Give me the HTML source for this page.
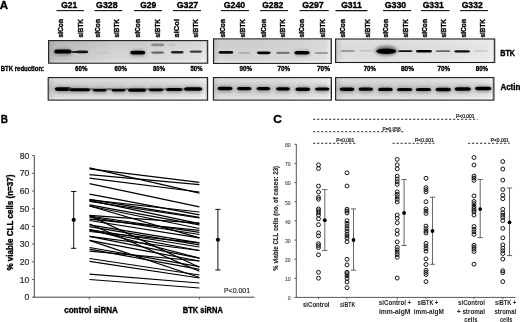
<!DOCTYPE html>
<html><head><meta charset="utf-8"><style>
html,body{margin:0;padding:0;background:#fff;}
svg{display:block;font-family:"Liberation Sans", sans-serif;filter:blur(0.3px);}
</style></head><body>
<svg width="520" height="322" viewBox="0 0 520 322">
<rect width="520" height="322" fill="#fff"/>
<text x="-0.2" y="8.6" font-size="11.4" font-weight="bold" stroke="#000" stroke-width="0.35" fill="#000" text-anchor="start" textLength="8.3" lengthAdjust="spacingAndGlyphs">A</text>
<text x="61.2" y="7.9" font-size="8.9" font-weight="bold" stroke="#000" stroke-width="0.35" fill="#000" text-anchor="start" textLength="16" lengthAdjust="spacingAndGlyphs">G21</text>
<line x1="56.5" y1="10.6" x2="84" y2="10.6" stroke="#111" stroke-width="1.1"/>
<text x="96.05" y="7.9" font-size="8.9" font-weight="bold" stroke="#000" stroke-width="0.35" fill="#000" text-anchor="start" textLength="21.5" lengthAdjust="spacingAndGlyphs">G328</text>
<line x1="94.5" y1="10.6" x2="122.3" y2="10.6" stroke="#111" stroke-width="1.1"/>
<text x="140.2" y="7.9" font-size="8.9" font-weight="bold" stroke="#000" stroke-width="0.35" fill="#000" text-anchor="start" textLength="16" lengthAdjust="spacingAndGlyphs">G29</text>
<line x1="134" y1="10.6" x2="162" y2="10.6" stroke="#111" stroke-width="1.1"/>
<text x="176.7" y="7.9" font-size="8.9" font-weight="bold" stroke="#000" stroke-width="0.35" fill="#000" text-anchor="start" textLength="21.5" lengthAdjust="spacingAndGlyphs">G327</text>
<line x1="173" y1="10.6" x2="201" y2="10.6" stroke="#111" stroke-width="1.1"/>
<text x="223.7" y="7.9" font-size="8.9" font-weight="bold" stroke="#000" stroke-width="0.35" fill="#000" text-anchor="start" textLength="21.5" lengthAdjust="spacingAndGlyphs">G240</text>
<line x1="221" y1="10.6" x2="249" y2="10.6" stroke="#111" stroke-width="1.1"/>
<text x="262.2" y="7.9" font-size="8.9" font-weight="bold" stroke="#000" stroke-width="0.35" fill="#000" text-anchor="start" textLength="21" lengthAdjust="spacingAndGlyphs">G282</text>
<line x1="260" y1="10.6" x2="288" y2="10.6" stroke="#111" stroke-width="1.1"/>
<text x="302.2" y="7.9" font-size="8.9" font-weight="bold" stroke="#000" stroke-width="0.35" fill="#000" text-anchor="start" textLength="21.5" lengthAdjust="spacingAndGlyphs">G297</text>
<line x1="299.5" y1="10.6" x2="328.75" y2="10.6" stroke="#111" stroke-width="1.1"/>
<text x="341.2" y="7.9" font-size="8.9" font-weight="bold" stroke="#000" stroke-width="0.35" fill="#000" text-anchor="start" textLength="20.5" lengthAdjust="spacingAndGlyphs">G311</text>
<line x1="335.5" y1="10.6" x2="367.5" y2="10.6" stroke="#111" stroke-width="1.1"/>
<text x="384.7" y="7.9" font-size="8.9" font-weight="bold" stroke="#000" stroke-width="0.35" fill="#000" text-anchor="start" textLength="21.5" lengthAdjust="spacingAndGlyphs">G330</text>
<line x1="383" y1="10.6" x2="411.25" y2="10.6" stroke="#111" stroke-width="1.1"/>
<text x="422.7" y="7.9" font-size="8.9" font-weight="bold" stroke="#000" stroke-width="0.35" fill="#000" text-anchor="start" textLength="21" lengthAdjust="spacingAndGlyphs">G331</text>
<line x1="421" y1="10.6" x2="449.5" y2="10.6" stroke="#111" stroke-width="1.1"/>
<text x="461.7" y="7.9" font-size="8.9" font-weight="bold" stroke="#000" stroke-width="0.35" fill="#000" text-anchor="start" textLength="21" lengthAdjust="spacingAndGlyphs">G332</text>
<line x1="460" y1="10.6" x2="488" y2="10.6" stroke="#111" stroke-width="1.1"/>
<text transform="translate(63.1,37.5) rotate(-90)" font-size="7" font-weight="bold" stroke="#000" stroke-width="0.35" fill="#000" text-anchor="start" textLength="18.5" lengthAdjust="spacingAndGlyphs">siCon</text>
<text transform="translate(83,37.5) rotate(-90)" font-size="7" font-weight="bold" stroke="#000" stroke-width="0.35" fill="#000" text-anchor="start" textLength="18.5" lengthAdjust="spacingAndGlyphs">siBTK</text>
<text transform="translate(99.5,37.5) rotate(-90)" font-size="7" font-weight="bold" stroke="#000" stroke-width="0.35" fill="#000" text-anchor="start" textLength="18.5" lengthAdjust="spacingAndGlyphs">siCon</text>
<text transform="translate(119,37.5) rotate(-90)" font-size="7" font-weight="bold" stroke="#000" stroke-width="0.35" fill="#000" text-anchor="start" textLength="18.5" lengthAdjust="spacingAndGlyphs">siBTK</text>
<text transform="translate(140,37.5) rotate(-90)" font-size="7" font-weight="bold" stroke="#000" stroke-width="0.35" fill="#000" text-anchor="start" textLength="18.5" lengthAdjust="spacingAndGlyphs">siCon</text>
<text transform="translate(159.5,37.5) rotate(-90)" font-size="7" font-weight="bold" stroke="#000" stroke-width="0.35" fill="#000" text-anchor="start" textLength="18.5" lengthAdjust="spacingAndGlyphs">siBTK</text>
<text transform="translate(179,37.5) rotate(-90)" font-size="7" font-weight="bold" stroke="#000" stroke-width="0.35" fill="#000" text-anchor="start" textLength="18.5" lengthAdjust="spacingAndGlyphs">siCol</text>
<text transform="translate(198,37.5) rotate(-90)" font-size="7" font-weight="bold" stroke="#000" stroke-width="0.35" fill="#000" text-anchor="start" textLength="18.5" lengthAdjust="spacingAndGlyphs">siBTK</text>
<text transform="translate(224.5,37.5) rotate(-90)" font-size="7" font-weight="bold" stroke="#000" stroke-width="0.35" fill="#000" text-anchor="start" textLength="18.5" lengthAdjust="spacingAndGlyphs">siCon</text>
<text transform="translate(245,37.5) rotate(-90)" font-size="7" font-weight="bold" stroke="#000" stroke-width="0.35" fill="#000" text-anchor="start" textLength="18.5" lengthAdjust="spacingAndGlyphs">siBTK</text>
<text transform="translate(266,37.5) rotate(-90)" font-size="7" font-weight="bold" stroke="#000" stroke-width="0.35" fill="#000" text-anchor="start" textLength="18.5" lengthAdjust="spacingAndGlyphs">siCon</text>
<text transform="translate(285,37.5) rotate(-90)" font-size="7" font-weight="bold" stroke="#000" stroke-width="0.35" fill="#000" text-anchor="start" textLength="18.5" lengthAdjust="spacingAndGlyphs">siBTK</text>
<text transform="translate(303.75,37.5) rotate(-90)" font-size="7" font-weight="bold" stroke="#000" stroke-width="0.35" fill="#000" text-anchor="start" textLength="18.5" lengthAdjust="spacingAndGlyphs">siCon</text>
<text transform="translate(324.5,37.5) rotate(-90)" font-size="7" font-weight="bold" stroke="#000" stroke-width="0.35" fill="#000" text-anchor="start" textLength="18.5" lengthAdjust="spacingAndGlyphs">siBTK</text>
<text transform="translate(345,37.5) rotate(-90)" font-size="7" font-weight="bold" stroke="#000" stroke-width="0.35" fill="#000" text-anchor="start" textLength="18.5" lengthAdjust="spacingAndGlyphs">siCon</text>
<text transform="translate(369.5,37.5) rotate(-90)" font-size="7" font-weight="bold" stroke="#000" stroke-width="0.35" fill="#000" text-anchor="start" textLength="18.5" lengthAdjust="spacingAndGlyphs">siBTK</text>
<text transform="translate(388,37.5) rotate(-90)" font-size="7" font-weight="bold" stroke="#000" stroke-width="0.35" fill="#000" text-anchor="start" textLength="18.5" lengthAdjust="spacingAndGlyphs">siCon</text>
<text transform="translate(408,37.5) rotate(-90)" font-size="7" font-weight="bold" stroke="#000" stroke-width="0.35" fill="#000" text-anchor="start" textLength="18.5" lengthAdjust="spacingAndGlyphs">siBTK</text>
<text transform="translate(427,37.5) rotate(-90)" font-size="7" font-weight="bold" stroke="#000" stroke-width="0.35" fill="#000" text-anchor="start" textLength="18.5" lengthAdjust="spacingAndGlyphs">siCon</text>
<text transform="translate(446,37.5) rotate(-90)" font-size="7" font-weight="bold" stroke="#000" stroke-width="0.35" fill="#000" text-anchor="start" textLength="18.5" lengthAdjust="spacingAndGlyphs">siBTK</text>
<text transform="translate(466,37.5) rotate(-90)" font-size="7" font-weight="bold" stroke="#000" stroke-width="0.35" fill="#000" text-anchor="start" textLength="18.5" lengthAdjust="spacingAndGlyphs">siCon</text>
<text transform="translate(485,37.5) rotate(-90)" font-size="7" font-weight="bold" stroke="#000" stroke-width="0.35" fill="#000" text-anchor="start" textLength="18.5" lengthAdjust="spacingAndGlyphs">siBTK</text>
<defs><linearGradient id="g1" x1="0" y1="0" x2="0" y2="1">
<stop offset="0" stop-color="#d4d4d4"/><stop offset="0.07" stop-color="#d0d0d0"/><stop offset="0.45" stop-color="#d8d8d8"/><stop offset="0.85" stop-color="#dedede"/><stop offset="0.94" stop-color="#eeeeee"/><stop offset="1" stop-color="#f6f6f6"/></linearGradient><linearGradient id="g2" x1="0" y1="0" x2="0" y2="1">
<stop offset="0" stop-color="#f0f0f0"/><stop offset="0.07" stop-color="#d4d4d4"/><stop offset="0.45" stop-color="#d8d8d8"/><stop offset="0.85" stop-color="#dddddd"/><stop offset="0.94" stop-color="#eeeeee"/><stop offset="1" stop-color="#f6f6f6"/></linearGradient><linearGradient id="g3" x1="0" y1="0" x2="0" y2="1">
<stop offset="0" stop-color="#f0f0f0"/><stop offset="0.07" stop-color="#e6e6e6"/><stop offset="0.45" stop-color="#e2e2e2"/><stop offset="0.85" stop-color="#e8e8e8"/><stop offset="0.94" stop-color="#eeeeee"/><stop offset="1" stop-color="#f6f6f6"/></linearGradient><linearGradient id="ga" x1="0" y1="0" x2="0" y2="1">
<stop offset="0" stop-color="#f0f0f0"/><stop offset="0.07" stop-color="#e4e4e4"/><stop offset="0.45" stop-color="#cdcdcd"/><stop offset="0.85" stop-color="#e2e2e2"/><stop offset="0.94" stop-color="#eeeeee"/><stop offset="1" stop-color="#f6f6f6"/></linearGradient>
<linearGradient id="bgx" x1="0" y1="0" x2="1" y2="0">
<stop offset="0" stop-color="#fff" stop-opacity="0.5"/><stop offset="0.012" stop-color="#000" stop-opacity="0.1"/><stop offset="0.05" stop-color="#000" stop-opacity="0.03"/><stop offset="0.95" stop-color="#fff" stop-opacity="0.1"/><stop offset="0.985" stop-color="#fff" stop-opacity="0.45"/><stop offset="1" stop-color="#000" stop-opacity="0.1"/></linearGradient>
<linearGradient id="b1x" x1="0" y1="0" x2="1" y2="0">
<stop offset="0" stop-color="#000" stop-opacity="0.1"/><stop offset="0.25" stop-color="#000" stop-opacity="0.04"/><stop offset="0.4" stop-color="#000" stop-opacity="0"/><stop offset="1" stop-color="#000" stop-opacity="0"/></linearGradient>
<filter id="bl" x="-50%" y="-100%" width="200%" height="300%"><feGaussianBlur stdDeviation="0.7"/></filter>
<filter id="bl2" x="-50%" y="-100%" width="200%" height="300%"><feGaussianBlur stdDeviation="1.4"/></filter>
</defs>
<rect x="48.6" y="40.6" width="159.1" height="22.6" fill="url(#g1)"/>
<rect x="48.6" y="40.6" width="159.1" height="22.6" fill="url(#bgx)"/>
<rect x="213.5" y="38.9" width="117.80000000000001" height="24.5" fill="url(#g2)"/>
<rect x="213.5" y="38.9" width="117.80000000000001" height="24.5" fill="url(#bgx)"/>
<rect x="335.6" y="39.0" width="159.09999999999997" height="23.5" fill="url(#g3)"/>
<rect x="335.6" y="39.0" width="159.09999999999997" height="23.5" fill="url(#bgx)"/>
<rect x="48.2" y="77.6" width="159.39999999999998" height="22.5" fill="url(#ga)"/>
<rect x="48.2" y="77.6" width="159.39999999999998" height="22.5" fill="url(#bgx)"/>
<rect x="213.4" y="77.6" width="117.99999999999997" height="22.5" fill="url(#ga)"/>
<rect x="213.4" y="77.6" width="117.99999999999997" height="22.5" fill="url(#bgx)"/>
<rect x="335.6" y="77.6" width="158.29999999999995" height="22.5" fill="url(#ga)"/>
<rect x="335.6" y="77.6" width="158.29999999999995" height="22.5" fill="url(#bgx)"/>
<rect x="48.6" y="40.6" width="159" height="22.6" fill="url(#b1x)"/>
<rect x="53.7" y="48.6" width="18.299999999999997" height="6.8" rx="5.189999999999999" ry="3.2" fill="#8a8a8a" filter="url(#bl2)"/>
<rect x="54.2" y="49.6" width="17.299999999999997" height="4.0" rx="2.8" ry="2.0" fill="#000" filter="url(#bl)"/>
<rect x="71" y="51.0" width="11" height="2.0" rx="2.8" ry="1.0" fill="#222" filter="url(#bl)"/>
<rect x="76" y="50.449999999999996" width="12.299999999999997" height="2.9" rx="2.8" ry="1.45" fill="#151515" filter="url(#bl)"/>
<rect x="93" y="51.3" width="16" height="3" rx="2.8" ry="1.5" fill="#c8c8c8" filter="url(#bl)"/>
<rect x="129.8" y="49.7" width="15.899999999999977" height="6.6" rx="4.469999999999993" ry="3.0999999999999996" fill="#999" filter="url(#bl2)"/>
<rect x="130.3" y="50.7" width="14.899999999999977" height="3.8" rx="2.8" ry="1.9" fill="#000" filter="url(#bl)"/>
<rect x="151" y="51.45" width="13.400000000000006" height="2.3" rx="2.8" ry="1.15" fill="#666" filter="url(#bl)"/>
<rect x="151" y="43.449999999999996" width="13.400000000000006" height="2.7" rx="2.8" ry="1.35" fill="#8a8a8a" filter="url(#bl)"/>
<rect x="141" y="44.2" width="5" height="1.6" rx="1.5" ry="0.8" fill="#c4c4c4" filter="url(#bl)"/>
<rect x="169" y="44.1" width="7" height="1.8" rx="2.1" ry="0.9" fill="#c4c4c4" filter="url(#bl)"/>
<rect x="170.8" y="51.0" width="12.949999999999989" height="2.4" rx="2.8" ry="1.2" fill="#222" filter="url(#bl)"/>
<rect x="189.5" y="50.6" width="12.5" height="2.2" rx="2.8" ry="1.1" fill="#3a3a3a" filter="url(#bl)"/>
<rect x="218.5" y="51.1" width="14.800000000000011" height="2.6" rx="2.8" ry="1.3" fill="#0a0a0a" filter="url(#bl)"/>
<rect x="238.4" y="51.9" width="12.599999999999994" height="2" rx="2.8" ry="1.0" fill="#b0b0b0" filter="url(#bl)"/>
<rect x="256.8" y="51.4" width="13.949999999999989" height="2.8" rx="2.8" ry="1.4" fill="#050505" filter="url(#bl)"/>
<rect x="276" y="51.8" width="14" height="2.2" rx="2.8" ry="1.1" fill="#777" filter="url(#bl)"/>
<rect x="293.8" y="50.0" width="16.399999999999977" height="6.199999999999999" rx="4.619999999999993" ry="2.9" fill="#aaa" filter="url(#bl2)"/>
<rect x="294.3" y="51.0" width="15.399999999999977" height="3.4" rx="2.8" ry="1.7" fill="#000" filter="url(#bl)"/>
<rect x="314.5" y="51.9" width="14.0" height="2" rx="2.8" ry="1.0" fill="#9a9a9a" filter="url(#bl)"/>
<rect x="340.25" y="50.1" width="14.949999999999989" height="1.8" rx="2.8" ry="0.9" fill="#9c9c9c" filter="url(#bl)"/>
<rect x="359.5" y="50.05" width="13.899999999999977" height="1.5" rx="2.8" ry="0.75" fill="#c2c2c2" filter="url(#bl)"/>
<ellipse cx="386.25" cy="50.699999999999996" rx="11.25" ry="5.0" fill="#777" filter="url(#bl2)"/>
<ellipse cx="386.25" cy="51.3" rx="10.05" ry="2.8" fill="#000" filter="url(#bl)"/>
<rect x="397.9" y="50.15" width="14.900000000000034" height="1.9" rx="2.8" ry="0.95" fill="#111" filter="url(#bl)"/>
<rect x="415.8" y="49.95" width="16.30000000000001" height="2.5" rx="2.8" ry="1.25" fill="#000" filter="url(#bl)"/>
<rect x="435.5" y="50.35" width="14.899999999999977" height="1.7" rx="2.8" ry="0.85" fill="#666" filter="url(#bl)"/>
<rect x="454.25" y="50.25" width="15.850000000000023" height="2.3" rx="2.8" ry="1.15" fill="#0a0a0a" filter="url(#bl)"/>
<rect x="473.5" y="50.2" width="14.899999999999977" height="1.6" rx="2.8" ry="0.8" fill="#c8c8c8" filter="url(#bl)"/>
<rect x="56" y="88.2" width="146" height="2" fill="#555" filter="url(#bl)"/>
<rect x="54.2" y="86.3" width="18.299999999999997" height="6.4" rx="5.189999999999999" ry="3.0" fill="#999" filter="url(#bl2)"/>
<rect x="54.7" y="87.3" width="17.299999999999997" height="3.6" rx="2.8" ry="1.8" fill="#050505" filter="url(#bl)"/>
<rect x="69.0" y="87.15" width="21.700000000000003" height="5.9" rx="6.210000000000001" ry="2.75" fill="#999" filter="url(#bl2)"/>
<rect x="69.5" y="88.15" width="20.700000000000003" height="3.1" rx="2.8" ry="1.55" fill="#050505" filter="url(#bl)"/>
<rect x="92.3" y="87.9" width="14.950000000000003" height="5.4" rx="4.1850000000000005" ry="2.5" fill="#999" filter="url(#bl2)"/>
<rect x="92.8" y="88.9" width="13.950000000000003" height="2.6" rx="2.8" ry="1.3" fill="#050505" filter="url(#bl)"/>
<rect x="111.0" y="87.9" width="15.0" height="5.4" rx="4.2" ry="2.5" fill="#999" filter="url(#bl2)"/>
<rect x="111.5" y="88.9" width="14.0" height="2.6" rx="2.8" ry="1.3" fill="#050505" filter="url(#bl)"/>
<rect x="127.5" y="87.60000000000001" width="19.19999999999999" height="6.0" rx="5.459999999999996" ry="2.8" fill="#999" filter="url(#bl2)"/>
<rect x="128" y="88.60000000000001" width="18.19999999999999" height="3.2" rx="2.8" ry="1.6" fill="#050505" filter="url(#bl)"/>
<rect x="148.1" y="87.39999999999999" width="15.900000000000006" height="5.6" rx="4.4700000000000015" ry="2.5999999999999996" fill="#999" filter="url(#bl2)"/>
<rect x="148.6" y="88.39999999999999" width="14.900000000000006" height="2.8" rx="2.8" ry="1.4" fill="#050505" filter="url(#bl)"/>
<rect x="165.3" y="87.1" width="17.799999999999983" height="5.8" rx="5.039999999999995" ry="2.7" fill="#999" filter="url(#bl2)"/>
<rect x="165.8" y="88.1" width="16.799999999999983" height="3.0" rx="2.8" ry="1.5" fill="#050505" filter="url(#bl)"/>
<rect x="183.5" y="86.25" width="19.30000000000001" height="6.3" rx="5.490000000000003" ry="2.95" fill="#999" filter="url(#bl2)"/>
<rect x="184" y="87.25" width="18.30000000000001" height="3.5" rx="2.8" ry="1.75" fill="#050505" filter="url(#bl)"/>
<rect x="217.0" y="85.65" width="16.099999999999994" height="6.3" rx="4.5299999999999985" ry="2.95" fill="#999" filter="url(#bl2)"/>
<rect x="217.5" y="86.65" width="15.099999999999994" height="3.5" rx="2.8" ry="1.75" fill="#050505" filter="url(#bl)"/>
<rect x="236.4" y="86.05" width="15.699999999999989" height="5.9" rx="4.409999999999997" ry="2.75" fill="#999" filter="url(#bl2)"/>
<rect x="236.9" y="87.05" width="14.699999999999989" height="3.1" rx="2.8" ry="1.55" fill="#050505" filter="url(#bl)"/>
<rect x="256.0" y="86.05" width="14.899999999999977" height="5.9" rx="4.169999999999993" ry="2.75" fill="#999" filter="url(#bl2)"/>
<rect x="256.5" y="87.05" width="13.899999999999977" height="3.1" rx="2.8" ry="1.55" fill="#050505" filter="url(#bl)"/>
<rect x="275.5" y="86.14999999999999" width="15" height="6.1" rx="4.2" ry="2.8499999999999996" fill="#999" filter="url(#bl2)"/>
<rect x="276" y="87.14999999999999" width="14" height="3.3" rx="2.8" ry="1.65" fill="#050505" filter="url(#bl)"/>
<rect x="294.8" y="86.4" width="15.899999999999977" height="6.4" rx="4.469999999999993" ry="3.0" fill="#999" filter="url(#bl2)"/>
<rect x="295.3" y="87.4" width="14.899999999999977" height="3.6" rx="2.8" ry="1.8" fill="#050505" filter="url(#bl)"/>
<rect x="314.5" y="86.45" width="15.399999999999977" height="5.9" rx="4.319999999999993" ry="2.75" fill="#999" filter="url(#bl2)"/>
<rect x="315" y="87.45" width="14.399999999999977" height="3.1" rx="2.8" ry="1.55" fill="#050505" filter="url(#bl)"/>
<rect x="339.2" y="86.45" width="15.699999999999989" height="6.3" rx="4.409999999999997" ry="2.95" fill="#999" filter="url(#bl2)"/>
<rect x="339.7" y="87.45" width="14.699999999999989" height="3.5" rx="2.8" ry="1.75" fill="#050505" filter="url(#bl)"/>
<rect x="358.0" y="86.55" width="15.5" height="6.1" rx="4.35" ry="2.8499999999999996" fill="#999" filter="url(#bl2)"/>
<rect x="358.5" y="87.55" width="14.5" height="3.3" rx="2.8" ry="1.65" fill="#050505" filter="url(#bl)"/>
<rect x="377.5" y="86.85000000000001" width="15.800000000000011" height="5.9" rx="4.440000000000003" ry="2.75" fill="#999" filter="url(#bl2)"/>
<rect x="378" y="87.85000000000001" width="14.800000000000011" height="3.1" rx="2.8" ry="1.55" fill="#050505" filter="url(#bl)"/>
<rect x="396.4" y="86.95" width="16.5" height="5.9" rx="4.6499999999999995" ry="2.75" fill="#999" filter="url(#bl2)"/>
<rect x="396.9" y="87.95" width="15.5" height="3.1" rx="2.8" ry="1.55" fill="#050505" filter="url(#bl)"/>
<rect x="415.2" y="86.9" width="16.5" height="6.0" rx="4.6499999999999995" ry="2.8" fill="#999" filter="url(#bl2)"/>
<rect x="415.7" y="87.9" width="15.5" height="3.2" rx="2.8" ry="1.6" fill="#050505" filter="url(#bl)"/>
<rect x="435.0" y="86.85" width="16.5" height="6.1" rx="4.6499999999999995" ry="2.8499999999999996" fill="#999" filter="url(#bl2)"/>
<rect x="435.5" y="87.85" width="15.5" height="3.3" rx="2.8" ry="1.65" fill="#050505" filter="url(#bl)"/>
<rect x="454.1" y="86.35" width="17.399999999999977" height="6.1" rx="4.919999999999993" ry="2.8499999999999996" fill="#999" filter="url(#bl2)"/>
<rect x="454.6" y="87.35" width="16.399999999999977" height="3.3" rx="2.8" ry="1.65" fill="#050505" filter="url(#bl)"/>
<rect x="474.5" y="85.65" width="17.399999999999977" height="6.3" rx="4.919999999999993" ry="2.95" fill="#999" filter="url(#bl2)"/>
<rect x="475" y="86.65" width="16.399999999999977" height="3.5" rx="2.8" ry="1.75" fill="#050505" filter="url(#bl)"/>
<rect x="48.6" y="40.6" width="159.1" height="22.6" fill="none" stroke="#1e1e1e" stroke-width="1.1"/>
<rect x="213.5" y="38.9" width="117.80000000000001" height="24.5" fill="none" stroke="#1e1e1e" stroke-width="1.1"/>
<rect x="335.6" y="39.0" width="159.09999999999997" height="23.5" fill="none" stroke="#1e1e1e" stroke-width="1.1"/>
<rect x="48.2" y="77.6" width="159.39999999999998" height="22.5" fill="none" stroke="#1e1e1e" stroke-width="1.1"/>
<rect x="213.4" y="77.6" width="117.99999999999997" height="22.5" fill="none" stroke="#1e1e1e" stroke-width="1.1"/>
<rect x="335.6" y="77.6" width="158.29999999999995" height="22.5" fill="none" stroke="#1e1e1e" stroke-width="1.1"/>
<text x="0.75" y="70.9" font-size="7.2" font-weight="bold" stroke="#000" stroke-width="0.35" fill="#000" text-anchor="start" textLength="43.3" lengthAdjust="spacingAndGlyphs">BTK reduction:</text>
<text x="75" y="71" font-size="6.8" font-weight="bold" stroke="#000" stroke-width="0.35" fill="#000" text-anchor="start" textLength="12.5" lengthAdjust="spacingAndGlyphs">60%</text>
<text x="114.5" y="71" font-size="6.8" font-weight="bold" stroke="#000" stroke-width="0.35" fill="#000" text-anchor="start" textLength="12.5" lengthAdjust="spacingAndGlyphs">60%</text>
<text x="153" y="71" font-size="6.8" font-weight="bold" stroke="#000" stroke-width="0.35" fill="#000" text-anchor="start" textLength="12" lengthAdjust="spacingAndGlyphs">80%</text>
<text x="190.5" y="71" font-size="6.8" font-weight="bold" stroke="#000" stroke-width="0.35" fill="#000" text-anchor="start" textLength="12.0" lengthAdjust="spacingAndGlyphs">50%</text>
<text x="239.5" y="71" font-size="6.8" font-weight="bold" stroke="#000" stroke-width="0.35" fill="#000" text-anchor="start" textLength="12.5" lengthAdjust="spacingAndGlyphs">90%</text>
<text x="277.5" y="71" font-size="6.8" font-weight="bold" stroke="#000" stroke-width="0.35" fill="#000" text-anchor="start" textLength="12.5" lengthAdjust="spacingAndGlyphs">70%</text>
<text x="317" y="71" font-size="6.8" font-weight="bold" stroke="#000" stroke-width="0.35" fill="#000" text-anchor="start" textLength="13" lengthAdjust="spacingAndGlyphs">70%</text>
<text x="363.75" y="71" font-size="6.8" font-weight="bold" stroke="#000" stroke-width="0.35" fill="#000" text-anchor="start" textLength="12.0" lengthAdjust="spacingAndGlyphs">70%</text>
<text x="401" y="71" font-size="6.8" font-weight="bold" stroke="#000" stroke-width="0.35" fill="#000" text-anchor="start" textLength="13" lengthAdjust="spacingAndGlyphs">80%</text>
<text x="437.5" y="71" font-size="6.8" font-weight="bold" stroke="#000" stroke-width="0.35" fill="#000" text-anchor="start" textLength="12.5" lengthAdjust="spacingAndGlyphs">70%</text>
<text x="475.75" y="71" font-size="6.8" font-weight="bold" stroke="#000" stroke-width="0.35" fill="#000" text-anchor="start" textLength="12.25" lengthAdjust="spacingAndGlyphs">80%</text>
<text x="500.2" y="55.9" font-size="8.6" font-weight="bold" stroke="#000" stroke-width="0.35" fill="#000" text-anchor="start" textLength="14.8" lengthAdjust="spacingAndGlyphs">BTK</text>
<text x="500.4" y="90.3" font-size="8.6" font-weight="bold" stroke="#000" stroke-width="0.35" fill="#000" text-anchor="start" textLength="20" lengthAdjust="spacingAndGlyphs">Actin</text>
<text x="0.8" y="122.9" font-size="11.5" font-weight="bold" stroke="#000" stroke-width="0.35" fill="#000" text-anchor="start" textLength="7.2" lengthAdjust="spacingAndGlyphs">B</text>
<line x1="34.3" y1="155.2" x2="34.3" y2="297.7" stroke="#444" stroke-width="1.0"/>
<line x1="34.3" y1="297.2" x2="254.5" y2="297.2" stroke="#444" stroke-width="1.0"/>
<line x1="31.9" y1="297.2" x2="34.3" y2="297.2" stroke="#555" stroke-width="0.9"/>
<text x="29.2" y="300.3" font-size="8.6" fill="#2a2a2a" text-anchor="end" stroke="#2a2a2a" stroke-width="0.2">0</text>
<line x1="31.9" y1="279.5" x2="34.3" y2="279.5" stroke="#555" stroke-width="0.9"/>
<text x="29.2" y="282.6" font-size="8.6" fill="#2a2a2a" text-anchor="end" stroke="#2a2a2a" stroke-width="0.2">10</text>
<line x1="31.9" y1="261.8" x2="34.3" y2="261.8" stroke="#555" stroke-width="0.9"/>
<text x="29.2" y="264.90000000000003" font-size="8.6" fill="#2a2a2a" text-anchor="end" stroke="#2a2a2a" stroke-width="0.2">20</text>
<line x1="31.9" y1="244.1" x2="34.3" y2="244.1" stroke="#555" stroke-width="0.9"/>
<text x="29.2" y="247.2" font-size="8.6" fill="#2a2a2a" text-anchor="end" stroke="#2a2a2a" stroke-width="0.2">30</text>
<line x1="31.9" y1="226.39999999999998" x2="34.3" y2="226.39999999999998" stroke="#555" stroke-width="0.9"/>
<text x="29.2" y="229.49999999999997" font-size="8.6" fill="#2a2a2a" text-anchor="end" stroke="#2a2a2a" stroke-width="0.2">40</text>
<line x1="31.9" y1="208.7" x2="34.3" y2="208.7" stroke="#555" stroke-width="0.9"/>
<text x="29.2" y="211.79999999999998" font-size="8.6" fill="#2a2a2a" text-anchor="end" stroke="#2a2a2a" stroke-width="0.2">50</text>
<line x1="31.9" y1="191.0" x2="34.3" y2="191.0" stroke="#555" stroke-width="0.9"/>
<text x="29.2" y="194.1" font-size="8.6" fill="#2a2a2a" text-anchor="end" stroke="#2a2a2a" stroke-width="0.2">60</text>
<line x1="31.9" y1="173.29999999999998" x2="34.3" y2="173.29999999999998" stroke="#555" stroke-width="0.9"/>
<text x="29.2" y="176.39999999999998" font-size="8.6" fill="#2a2a2a" text-anchor="end" stroke="#2a2a2a" stroke-width="0.2">70</text>
<line x1="31.9" y1="155.6" x2="34.3" y2="155.6" stroke="#555" stroke-width="0.9"/>
<text x="29.2" y="158.7" font-size="8.6" fill="#2a2a2a" text-anchor="end" stroke="#2a2a2a" stroke-width="0.2">80</text>
<line x1="89.3" y1="297.2" x2="89.3" y2="299.4" stroke="#555" stroke-width="0.9"/>
<line x1="199.6" y1="297.2" x2="199.6" y2="299.4" stroke="#555" stroke-width="0.9"/>
<text x="64.2" y="313" font-size="8.6" font-weight="bold" stroke="#000" stroke-width="0.35" fill="#000" text-anchor="start" textLength="53.7" lengthAdjust="spacingAndGlyphs">control siRNA</text>
<text x="182.7" y="313" font-size="8.6" font-weight="bold" stroke="#000" stroke-width="0.35" fill="#000" text-anchor="start" textLength="40.2" lengthAdjust="spacingAndGlyphs">BTK siRNA</text>
<text transform="translate(13.2,270.6) rotate(-90)" font-size="8.3" font-weight="bold" stroke="#000" stroke-width="0.35" fill="#000" text-anchor="start" textLength="96" lengthAdjust="spacingAndGlyphs">% viable CLL cells (n=37)</text>
<text x="224" y="292.9" font-size="7.2" fill="#222" text-anchor="start" textLength="26" lengthAdjust="spacingAndGlyphs" stroke="#222" stroke-width="0.15">P&lt;0.001</text>
<line x1="89.5" y1="167.8" x2="199.4" y2="193.2" stroke="#000" stroke-width="1.2"/>
<line x1="89.5" y1="168.9" x2="199.4" y2="182.3" stroke="#000" stroke-width="1.2"/>
<line x1="89.5" y1="174.7" x2="199.4" y2="184.6" stroke="#000" stroke-width="1.2"/>
<line x1="89.5" y1="178.2" x2="199.4" y2="192" stroke="#000" stroke-width="1.2"/>
<line x1="89.5" y1="183.6" x2="199.4" y2="206.8" stroke="#000" stroke-width="1.2"/>
<line x1="89.5" y1="194.2" x2="199.4" y2="214.9" stroke="#000" stroke-width="1.2"/>
<line x1="89.5" y1="199.4" x2="199.4" y2="217.4" stroke="#000" stroke-width="1.2"/>
<line x1="89.5" y1="201.4" x2="199.4" y2="218" stroke="#000" stroke-width="1.2"/>
<line x1="89.5" y1="200.4" x2="199.4" y2="223.6" stroke="#000" stroke-width="1.2"/>
<line x1="89.5" y1="204.8" x2="199.4" y2="224.8" stroke="#000" stroke-width="1.2"/>
<line x1="89.5" y1="206" x2="199.4" y2="228.5" stroke="#000" stroke-width="1.2"/>
<line x1="89.5" y1="215.3" x2="199.4" y2="223.2" stroke="#000" stroke-width="1.2"/>
<line x1="89.5" y1="215.6" x2="199.4" y2="267.3" stroke="#000" stroke-width="1.2"/>
<line x1="89.5" y1="216" x2="199.4" y2="232.3" stroke="#000" stroke-width="1.2"/>
<line x1="89.5" y1="217.2" x2="199.4" y2="234.5" stroke="#000" stroke-width="1.2"/>
<line x1="89.5" y1="219.2" x2="199.4" y2="230.4" stroke="#000" stroke-width="1.2"/>
<line x1="89.5" y1="220.5" x2="199.4" y2="237.9" stroke="#000" stroke-width="1.2"/>
<line x1="89.5" y1="224" x2="199.4" y2="271.3" stroke="#000" stroke-width="1.2"/>
<line x1="89.5" y1="224.8" x2="199.4" y2="242.8" stroke="#000" stroke-width="1.2"/>
<line x1="89.5" y1="226.7" x2="199.4" y2="244.9" stroke="#000" stroke-width="1.2"/>
<line x1="89.5" y1="229.5" x2="199.4" y2="247" stroke="#000" stroke-width="1.2"/>
<line x1="89.5" y1="230.4" x2="199.4" y2="250.5" stroke="#000" stroke-width="1.2"/>
<line x1="89.5" y1="231.5" x2="199.4" y2="242.8" stroke="#000" stroke-width="1.2"/>
<line x1="89.5" y1="236.4" x2="199.4" y2="258.2" stroke="#000" stroke-width="1.2"/>
<line x1="89.5" y1="240.4" x2="199.4" y2="261" stroke="#000" stroke-width="1.2"/>
<line x1="89.5" y1="247.5" x2="199.4" y2="266.6" stroke="#000" stroke-width="1.2"/>
<line x1="89.5" y1="249.2" x2="199.4" y2="269.4" stroke="#000" stroke-width="1.2"/>
<line x1="89.5" y1="251.1" x2="199.4" y2="261" stroke="#000" stroke-width="1.2"/>
<line x1="89.5" y1="258.5" x2="199.4" y2="275" stroke="#000" stroke-width="1.2"/>
<line x1="89.5" y1="261.4" x2="199.4" y2="278" stroke="#000" stroke-width="1.2"/>
<line x1="89.5" y1="274.2" x2="199.4" y2="283" stroke="#000" stroke-width="1.2"/>
<line x1="89.5" y1="279.5" x2="199.4" y2="288" stroke="#000" stroke-width="1.2"/>
<line x1="89.5" y1="199.8" x2="199.4" y2="212" stroke="#000" stroke-width="1.2"/>
<line x1="89.5" y1="206" x2="199.4" y2="237.9" stroke="#000" stroke-width="1.2"/>
<line x1="89.5" y1="229.5" x2="199.4" y2="258.2" stroke="#000" stroke-width="1.2"/>
<line x1="89.5" y1="236.4" x2="199.4" y2="250.5" stroke="#000" stroke-width="1.2"/>
<line x1="89.5" y1="240.4" x2="199.4" y2="277.5" stroke="#000" stroke-width="1.2"/>
<line x1="73.7" y1="191.5" x2="73.7" y2="248.3" stroke="#111" stroke-width="1.0"/>
<line x1="71.10000000000001" y1="191.5" x2="76.3" y2="191.5" stroke="#111" stroke-width="1.0"/>
<line x1="71.10000000000001" y1="248.3" x2="76.3" y2="248.3" stroke="#111" stroke-width="1.0"/>
<circle cx="73.7" cy="219.8" r="2.1" fill="#000"/>
<line x1="217.9" y1="209.4" x2="217.9" y2="270" stroke="#111" stroke-width="1.0"/>
<line x1="215.3" y1="209.4" x2="220.5" y2="209.4" stroke="#111" stroke-width="1.0"/>
<line x1="215.3" y1="270" x2="220.5" y2="270" stroke="#111" stroke-width="1.0"/>
<circle cx="217.9" cy="239.75" r="2.1" fill="#000"/>
<text x="273.3" y="123.4" font-size="11.6" font-weight="bold" stroke="#000" stroke-width="0.35" fill="#000" text-anchor="start" textLength="8.6" lengthAdjust="spacingAndGlyphs">C</text>
<line x1="296.3" y1="144" x2="296.3" y2="297.9" stroke="#444" stroke-width="0.9"/>
<line x1="296.3" y1="297.4" x2="515.5" y2="297.4" stroke="#444" stroke-width="0.9"/>
<line x1="294.3" y1="297.5" x2="296.3" y2="297.5" stroke="#444" stroke-width="0.8"/>
<text x="290.7" y="300.3" font-size="5.2" fill="#4a4a4a" text-anchor="end" stroke="#4a4a4a" stroke-width="0.1">0</text>
<line x1="294.3" y1="278.35" x2="296.3" y2="278.35" stroke="#444" stroke-width="0.8"/>
<text x="290.7" y="281.15000000000003" font-size="5.2" fill="#4a4a4a" text-anchor="end" stroke="#4a4a4a" stroke-width="0.1">10</text>
<line x1="294.3" y1="259.2" x2="296.3" y2="259.2" stroke="#444" stroke-width="0.8"/>
<text x="290.7" y="262.0" font-size="5.2" fill="#4a4a4a" text-anchor="end" stroke="#4a4a4a" stroke-width="0.1">20</text>
<line x1="294.3" y1="240.05" x2="296.3" y2="240.05" stroke="#444" stroke-width="0.8"/>
<text x="290.7" y="242.85000000000002" font-size="5.2" fill="#4a4a4a" text-anchor="end" stroke="#4a4a4a" stroke-width="0.1">30</text>
<line x1="294.3" y1="220.9" x2="296.3" y2="220.9" stroke="#444" stroke-width="0.8"/>
<text x="290.7" y="223.70000000000002" font-size="5.2" fill="#4a4a4a" text-anchor="end" stroke="#4a4a4a" stroke-width="0.1">40</text>
<line x1="294.3" y1="201.75" x2="296.3" y2="201.75" stroke="#444" stroke-width="0.8"/>
<text x="290.7" y="204.55" font-size="5.2" fill="#4a4a4a" text-anchor="end" stroke="#4a4a4a" stroke-width="0.1">50</text>
<line x1="294.3" y1="182.6" x2="296.3" y2="182.6" stroke="#444" stroke-width="0.8"/>
<text x="290.7" y="185.4" font-size="5.2" fill="#4a4a4a" text-anchor="end" stroke="#4a4a4a" stroke-width="0.1">60</text>
<line x1="294.3" y1="163.45" x2="296.3" y2="163.45" stroke="#444" stroke-width="0.8"/>
<text x="290.7" y="166.25" font-size="5.2" fill="#4a4a4a" text-anchor="end" stroke="#4a4a4a" stroke-width="0.1">70</text>
<line x1="294.3" y1="144.3" x2="296.3" y2="144.3" stroke="#444" stroke-width="0.8"/>
<text x="290.7" y="147.10000000000002" font-size="5.2" fill="#4a4a4a" text-anchor="end" stroke="#4a4a4a" stroke-width="0.1">80</text>
<line x1="318.5" y1="297.4" x2="318.5" y2="299.2" stroke="#444" stroke-width="0.8"/>
<line x1="347" y1="297.4" x2="347" y2="299.2" stroke="#444" stroke-width="0.8"/>
<line x1="397.2" y1="297.4" x2="397.2" y2="299.2" stroke="#444" stroke-width="0.8"/>
<line x1="426" y1="297.4" x2="426" y2="299.2" stroke="#444" stroke-width="0.8"/>
<line x1="474" y1="297.4" x2="474" y2="299.2" stroke="#444" stroke-width="0.8"/>
<line x1="502.8" y1="297.4" x2="502.8" y2="299.2" stroke="#444" stroke-width="0.8"/>
<circle cx="318.5" cy="164.8" r="1.95" fill="none" stroke="#151515" stroke-width="1.0"/>
<circle cx="318.5" cy="168.5" r="1.95" fill="none" stroke="#151515" stroke-width="1.0"/>
<circle cx="318.5" cy="186.1" r="1.95" fill="none" stroke="#151515" stroke-width="1.0"/>
<circle cx="318.5" cy="192" r="1.95" fill="none" stroke="#151515" stroke-width="1.0"/>
<circle cx="318.5" cy="197.4" r="1.95" fill="none" stroke="#151515" stroke-width="1.0"/>
<circle cx="318.5" cy="199.2" r="1.95" fill="none" stroke="#151515" stroke-width="1.0"/>
<circle cx="318.5" cy="209" r="1.95" fill="none" stroke="#151515" stroke-width="1.0"/>
<circle cx="318.5" cy="210.7" r="1.95" fill="none" stroke="#151515" stroke-width="1.0"/>
<circle cx="318.5" cy="212.8" r="1.95" fill="none" stroke="#151515" stroke-width="1.0"/>
<circle cx="318.5" cy="215.2" r="1.95" fill="none" stroke="#151515" stroke-width="1.0"/>
<circle cx="318.5" cy="218.8" r="1.95" fill="none" stroke="#151515" stroke-width="1.0"/>
<circle cx="318.5" cy="224.7" r="1.95" fill="none" stroke="#151515" stroke-width="1.0"/>
<circle cx="318.5" cy="232.9" r="1.95" fill="none" stroke="#151515" stroke-width="1.0"/>
<circle cx="318.5" cy="235.9" r="1.95" fill="none" stroke="#151515" stroke-width="1.0"/>
<circle cx="318.5" cy="243.7" r="1.95" fill="none" stroke="#151515" stroke-width="1.0"/>
<circle cx="318.5" cy="245.6" r="1.95" fill="none" stroke="#151515" stroke-width="1.0"/>
<circle cx="318.5" cy="247.6" r="1.95" fill="none" stroke="#151515" stroke-width="1.0"/>
<circle cx="318.5" cy="254.8" r="1.95" fill="none" stroke="#151515" stroke-width="1.0"/>
<circle cx="318.5" cy="272.3" r="1.95" fill="none" stroke="#151515" stroke-width="1.0"/>
<circle cx="318.5" cy="278.2" r="1.95" fill="none" stroke="#151515" stroke-width="1.0"/>
<circle cx="347" cy="172.8" r="1.95" fill="none" stroke="#151515" stroke-width="1.0"/>
<circle cx="347" cy="186" r="1.95" fill="none" stroke="#151515" stroke-width="1.0"/>
<circle cx="347" cy="209.2" r="1.95" fill="none" stroke="#151515" stroke-width="1.0"/>
<circle cx="347" cy="211" r="1.95" fill="none" stroke="#151515" stroke-width="1.0"/>
<circle cx="347" cy="213" r="1.95" fill="none" stroke="#151515" stroke-width="1.0"/>
<circle cx="347" cy="220.7" r="1.95" fill="none" stroke="#151515" stroke-width="1.0"/>
<circle cx="347" cy="223.3" r="1.95" fill="none" stroke="#151515" stroke-width="1.0"/>
<circle cx="347" cy="225.9" r="1.95" fill="none" stroke="#151515" stroke-width="1.0"/>
<circle cx="347" cy="228.5" r="1.95" fill="none" stroke="#151515" stroke-width="1.0"/>
<circle cx="347" cy="231.1" r="1.95" fill="none" stroke="#151515" stroke-width="1.0"/>
<circle cx="347" cy="234" r="1.95" fill="none" stroke="#151515" stroke-width="1.0"/>
<circle cx="347" cy="236" r="1.95" fill="none" stroke="#151515" stroke-width="1.0"/>
<circle cx="347" cy="238.2" r="1.95" fill="none" stroke="#151515" stroke-width="1.0"/>
<circle cx="347" cy="241.8" r="1.95" fill="none" stroke="#151515" stroke-width="1.0"/>
<circle cx="347" cy="259.3" r="1.95" fill="none" stroke="#151515" stroke-width="1.0"/>
<circle cx="347" cy="264.9" r="1.95" fill="none" stroke="#151515" stroke-width="1.0"/>
<circle cx="347" cy="272.2" r="1.95" fill="none" stroke="#151515" stroke-width="1.0"/>
<circle cx="347" cy="273.7" r="1.95" fill="none" stroke="#151515" stroke-width="1.0"/>
<circle cx="347" cy="276" r="1.95" fill="none" stroke="#151515" stroke-width="1.0"/>
<circle cx="347" cy="278.4" r="1.95" fill="none" stroke="#151515" stroke-width="1.0"/>
<circle cx="347" cy="282" r="1.95" fill="none" stroke="#151515" stroke-width="1.0"/>
<circle cx="347" cy="287.7" r="1.95" fill="none" stroke="#151515" stroke-width="1.0"/>
<circle cx="397.2" cy="159.4" r="1.95" fill="none" stroke="#151515" stroke-width="1.0"/>
<circle cx="397.2" cy="164.8" r="1.95" fill="none" stroke="#151515" stroke-width="1.0"/>
<circle cx="397.2" cy="168.8" r="1.95" fill="none" stroke="#151515" stroke-width="1.0"/>
<circle cx="397.2" cy="176.1" r="1.95" fill="none" stroke="#151515" stroke-width="1.0"/>
<circle cx="397.2" cy="179" r="1.95" fill="none" stroke="#151515" stroke-width="1.0"/>
<circle cx="397.2" cy="181.9" r="1.95" fill="none" stroke="#151515" stroke-width="1.0"/>
<circle cx="397.2" cy="184.4" r="1.95" fill="none" stroke="#151515" stroke-width="1.0"/>
<circle cx="397.2" cy="191.9" r="1.95" fill="none" stroke="#151515" stroke-width="1.0"/>
<circle cx="397.2" cy="194.4" r="1.95" fill="none" stroke="#151515" stroke-width="1.0"/>
<circle cx="397.2" cy="196.9" r="1.95" fill="none" stroke="#151515" stroke-width="1.0"/>
<circle cx="397.2" cy="199.3" r="1.95" fill="none" stroke="#151515" stroke-width="1.0"/>
<circle cx="397.2" cy="202" r="1.95" fill="none" stroke="#151515" stroke-width="1.0"/>
<circle cx="397.2" cy="215" r="1.95" fill="none" stroke="#151515" stroke-width="1.0"/>
<circle cx="397.2" cy="218.2" r="1.95" fill="none" stroke="#151515" stroke-width="1.0"/>
<circle cx="397.2" cy="222.8" r="1.95" fill="none" stroke="#151515" stroke-width="1.0"/>
<circle cx="397.2" cy="230.4" r="1.95" fill="none" stroke="#151515" stroke-width="1.0"/>
<circle cx="397.2" cy="234.2" r="1.95" fill="none" stroke="#151515" stroke-width="1.0"/>
<circle cx="397.2" cy="241.9" r="1.95" fill="none" stroke="#151515" stroke-width="1.0"/>
<circle cx="397.2" cy="247.3" r="1.95" fill="none" stroke="#151515" stroke-width="1.0"/>
<circle cx="397.2" cy="249.8" r="1.95" fill="none" stroke="#151515" stroke-width="1.0"/>
<circle cx="397.2" cy="252.2" r="1.95" fill="none" stroke="#151515" stroke-width="1.0"/>
<circle cx="397.2" cy="254.6" r="1.95" fill="none" stroke="#151515" stroke-width="1.0"/>
<circle cx="397.2" cy="257.3" r="1.95" fill="none" stroke="#151515" stroke-width="1.0"/>
<circle cx="397.2" cy="278.1" r="1.95" fill="none" stroke="#151515" stroke-width="1.0"/>
<circle cx="426" cy="178.3" r="1.95" fill="none" stroke="#151515" stroke-width="1.0"/>
<circle cx="426" cy="187.6" r="1.95" fill="none" stroke="#151515" stroke-width="1.0"/>
<circle cx="426" cy="189.6" r="1.95" fill="none" stroke="#151515" stroke-width="1.0"/>
<circle cx="426" cy="191.8" r="1.95" fill="none" stroke="#151515" stroke-width="1.0"/>
<circle cx="426" cy="201.7" r="1.95" fill="none" stroke="#151515" stroke-width="1.0"/>
<circle cx="426" cy="208.9" r="1.95" fill="none" stroke="#151515" stroke-width="1.0"/>
<circle cx="426" cy="211.1" r="1.95" fill="none" stroke="#151515" stroke-width="1.0"/>
<circle cx="426" cy="213.5" r="1.95" fill="none" stroke="#151515" stroke-width="1.0"/>
<circle cx="426" cy="226.1" r="1.95" fill="none" stroke="#151515" stroke-width="1.0"/>
<circle cx="426" cy="228.7" r="1.95" fill="none" stroke="#151515" stroke-width="1.0"/>
<circle cx="426" cy="231.1" r="1.95" fill="none" stroke="#151515" stroke-width="1.0"/>
<circle cx="426" cy="233" r="1.95" fill="none" stroke="#151515" stroke-width="1.0"/>
<circle cx="426" cy="243.3" r="1.95" fill="none" stroke="#151515" stroke-width="1.0"/>
<circle cx="426" cy="246" r="1.95" fill="none" stroke="#151515" stroke-width="1.0"/>
<circle cx="426" cy="248.5" r="1.95" fill="none" stroke="#151515" stroke-width="1.0"/>
<circle cx="426" cy="251.2" r="1.95" fill="none" stroke="#151515" stroke-width="1.0"/>
<circle cx="426" cy="258.9" r="1.95" fill="none" stroke="#151515" stroke-width="1.0"/>
<circle cx="426" cy="264.5" r="1.95" fill="none" stroke="#151515" stroke-width="1.0"/>
<circle cx="426" cy="270.3" r="1.95" fill="none" stroke="#151515" stroke-width="1.0"/>
<circle cx="426" cy="272.4" r="1.95" fill="none" stroke="#151515" stroke-width="1.0"/>
<circle cx="426" cy="274.5" r="1.95" fill="none" stroke="#151515" stroke-width="1.0"/>
<circle cx="426" cy="281.6" r="1.95" fill="none" stroke="#151515" stroke-width="1.0"/>
<circle cx="474" cy="157.5" r="1.95" fill="none" stroke="#151515" stroke-width="1.0"/>
<circle cx="474" cy="165" r="1.95" fill="none" stroke="#151515" stroke-width="1.0"/>
<circle cx="474" cy="176.1" r="1.95" fill="none" stroke="#151515" stroke-width="1.0"/>
<circle cx="474" cy="178.1" r="1.95" fill="none" stroke="#151515" stroke-width="1.0"/>
<circle cx="474" cy="180.4" r="1.95" fill="none" stroke="#151515" stroke-width="1.0"/>
<circle cx="474" cy="195.9" r="1.95" fill="none" stroke="#151515" stroke-width="1.0"/>
<circle cx="474" cy="201.5" r="1.95" fill="none" stroke="#151515" stroke-width="1.0"/>
<circle cx="474" cy="203.7" r="1.95" fill="none" stroke="#151515" stroke-width="1.0"/>
<circle cx="474" cy="206.3" r="1.95" fill="none" stroke="#151515" stroke-width="1.0"/>
<circle cx="474" cy="208.3" r="1.95" fill="none" stroke="#151515" stroke-width="1.0"/>
<circle cx="474" cy="210.2" r="1.95" fill="none" stroke="#151515" stroke-width="1.0"/>
<circle cx="474" cy="211.9" r="1.95" fill="none" stroke="#151515" stroke-width="1.0"/>
<circle cx="474" cy="215" r="1.95" fill="none" stroke="#151515" stroke-width="1.0"/>
<circle cx="474" cy="226.5" r="1.95" fill="none" stroke="#151515" stroke-width="1.0"/>
<circle cx="474" cy="229.3" r="1.95" fill="none" stroke="#151515" stroke-width="1.0"/>
<circle cx="474" cy="231.8" r="1.95" fill="none" stroke="#151515" stroke-width="1.0"/>
<circle cx="474" cy="234.4" r="1.95" fill="none" stroke="#151515" stroke-width="1.0"/>
<circle cx="474" cy="245.3" r="1.95" fill="none" stroke="#151515" stroke-width="1.0"/>
<circle cx="474" cy="247.2" r="1.95" fill="none" stroke="#151515" stroke-width="1.0"/>
<circle cx="474" cy="249.2" r="1.95" fill="none" stroke="#151515" stroke-width="1.0"/>
<circle cx="474" cy="251.5" r="1.95" fill="none" stroke="#151515" stroke-width="1.0"/>
<circle cx="474" cy="264.2" r="1.95" fill="none" stroke="#151515" stroke-width="1.0"/>
<circle cx="502.8" cy="161.5" r="1.95" fill="none" stroke="#151515" stroke-width="1.0"/>
<circle cx="502.8" cy="169" r="1.95" fill="none" stroke="#151515" stroke-width="1.0"/>
<circle cx="502.8" cy="180.2" r="1.95" fill="none" stroke="#151515" stroke-width="1.0"/>
<circle cx="502.8" cy="189.5" r="1.95" fill="none" stroke="#151515" stroke-width="1.0"/>
<circle cx="502.8" cy="195.3" r="1.95" fill="none" stroke="#151515" stroke-width="1.0"/>
<circle cx="502.8" cy="198.8" r="1.95" fill="none" stroke="#151515" stroke-width="1.0"/>
<circle cx="502.8" cy="209.3" r="1.95" fill="none" stroke="#151515" stroke-width="1.0"/>
<circle cx="502.8" cy="212.9" r="1.95" fill="none" stroke="#151515" stroke-width="1.0"/>
<circle cx="502.8" cy="215.2" r="1.95" fill="none" stroke="#151515" stroke-width="1.0"/>
<circle cx="502.8" cy="217.5" r="1.95" fill="none" stroke="#151515" stroke-width="1.0"/>
<circle cx="502.8" cy="220.6" r="1.95" fill="none" stroke="#151515" stroke-width="1.0"/>
<circle cx="502.8" cy="228.4" r="1.95" fill="none" stroke="#151515" stroke-width="1.0"/>
<circle cx="502.8" cy="237.8" r="1.95" fill="none" stroke="#151515" stroke-width="1.0"/>
<circle cx="502.8" cy="244.8" r="1.95" fill="none" stroke="#151515" stroke-width="1.0"/>
<circle cx="502.8" cy="248.2" r="1.95" fill="none" stroke="#151515" stroke-width="1.0"/>
<circle cx="502.8" cy="250.8" r="1.95" fill="none" stroke="#151515" stroke-width="1.0"/>
<circle cx="502.8" cy="253.6" r="1.95" fill="none" stroke="#151515" stroke-width="1.0"/>
<circle cx="502.8" cy="259.1" r="1.95" fill="none" stroke="#151515" stroke-width="1.0"/>
<circle cx="502.8" cy="270.7" r="1.95" fill="none" stroke="#151515" stroke-width="1.0"/>
<circle cx="502.8" cy="272.6" r="1.95" fill="none" stroke="#151515" stroke-width="1.0"/>
<circle cx="502.8" cy="281.6" r="1.95" fill="none" stroke="#151515" stroke-width="1.0"/>
<line x1="324.8" y1="189.5" x2="324.8" y2="250.5" stroke="#555" stroke-width="0.9"/>
<line x1="322.2" y1="189.5" x2="327.40000000000003" y2="189.5" stroke="#555" stroke-width="0.9"/>
<line x1="322.2" y1="250.5" x2="327.40000000000003" y2="250.5" stroke="#555" stroke-width="0.9"/>
<circle cx="324.8" cy="220.2" r="1.9" fill="#000"/>
<line x1="353.5" y1="208.9" x2="353.5" y2="270.2" stroke="#555" stroke-width="0.9"/>
<line x1="350.9" y1="208.9" x2="356.1" y2="208.9" stroke="#555" stroke-width="0.9"/>
<line x1="350.9" y1="270.2" x2="356.1" y2="270.2" stroke="#555" stroke-width="0.9"/>
<circle cx="353.5" cy="240" r="1.9" fill="#000"/>
<line x1="404.1" y1="179.5" x2="404.1" y2="245.5" stroke="#555" stroke-width="0.9"/>
<line x1="401.5" y1="179.5" x2="406.70000000000005" y2="179.5" stroke="#555" stroke-width="0.9"/>
<line x1="401.5" y1="245.5" x2="406.70000000000005" y2="245.5" stroke="#555" stroke-width="0.9"/>
<circle cx="404.1" cy="213" r="1.9" fill="#000"/>
<line x1="432.5" y1="197.2" x2="432.5" y2="264.3" stroke="#555" stroke-width="0.9"/>
<line x1="429.9" y1="197.2" x2="435.1" y2="197.2" stroke="#555" stroke-width="0.9"/>
<line x1="429.9" y1="264.3" x2="435.1" y2="264.3" stroke="#555" stroke-width="0.9"/>
<circle cx="432.5" cy="231" r="1.9" fill="#000"/>
<line x1="480.2" y1="179.5" x2="480.2" y2="237.6" stroke="#555" stroke-width="0.9"/>
<line x1="477.59999999999997" y1="179.5" x2="482.8" y2="179.5" stroke="#555" stroke-width="0.9"/>
<line x1="477.59999999999997" y1="237.6" x2="482.8" y2="237.6" stroke="#555" stroke-width="0.9"/>
<circle cx="480.2" cy="209.1" r="1.9" fill="#000"/>
<line x1="509.5" y1="188" x2="509.5" y2="255.6" stroke="#555" stroke-width="0.9"/>
<line x1="506.9" y1="188" x2="512.1" y2="188" stroke="#555" stroke-width="0.9"/>
<line x1="506.9" y1="255.6" x2="512.1" y2="255.6" stroke="#555" stroke-width="0.9"/>
<circle cx="509.5" cy="222.3" r="1.9" fill="#000"/>
<line x1="313" y1="119.3" x2="477.6" y2="119.3" stroke="#383838" stroke-width="1.0" stroke-dasharray="2.3 1.7"/>
<line x1="313" y1="131.7" x2="404.5" y2="131.7" stroke="#383838" stroke-width="1.0" stroke-dasharray="2.3 1.7"/>
<line x1="313" y1="143.3" x2="355.5" y2="143.3" stroke="#383838" stroke-width="1.0" stroke-dasharray="2.3 1.7"/>
<line x1="392.5" y1="143.3" x2="434.5" y2="143.3" stroke="#383838" stroke-width="1.0" stroke-dasharray="2.3 1.7"/>
<line x1="468" y1="143.3" x2="509.7" y2="143.3" stroke="#383838" stroke-width="1.0" stroke-dasharray="2.3 1.7"/>
<text x="456" y="117.5" font-size="4.7" fill="#222" text-anchor="start" textLength="18.4" lengthAdjust="spacingAndGlyphs" stroke="#222" stroke-width="0.22">P&lt;0.001</text>
<text x="382.5" y="130.8" font-size="4.7" fill="#222" text-anchor="start" textLength="18.2" lengthAdjust="spacingAndGlyphs" stroke="#222" stroke-width="0.22">P=0.056</text>
<text x="336.2" y="142.0" font-size="4.7" fill="#222" text-anchor="start" textLength="18" lengthAdjust="spacingAndGlyphs" stroke="#222" stroke-width="0.22">P&lt;0.001</text>
<text x="415" y="142.0" font-size="4.7" fill="#222" text-anchor="start" textLength="19" lengthAdjust="spacingAndGlyphs" stroke="#222" stroke-width="0.22">P&lt;0.001</text>
<text x="490.8" y="142.0" font-size="4.7" fill="#222" text-anchor="start" textLength="18.2" lengthAdjust="spacingAndGlyphs" stroke="#222" stroke-width="0.22">P&lt;0.001</text>
<text x="303" y="306.8" font-size="6.5" font-weight="bold" stroke="#222" stroke-width="0.0" fill="#222" text-anchor="start" textLength="26.5" lengthAdjust="spacingAndGlyphs">siControl</text>
<text x="340" y="306.8" font-size="6.5" font-weight="bold" stroke="#222" stroke-width="0.0" fill="#222" text-anchor="start" textLength="15.199999999999989" lengthAdjust="spacingAndGlyphs">siBTK</text>
<text x="378.75" y="305.3" font-size="6.5" font-weight="bold" stroke="#222" stroke-width="0.0" fill="#222" text-anchor="start" textLength="32.5" lengthAdjust="spacingAndGlyphs">siControl +</text>
<text x="379" y="313.7" font-size="6.5" font-weight="bold" stroke="#222" stroke-width="0.0" fill="#222" text-anchor="start" textLength="31.5" lengthAdjust="spacingAndGlyphs">imm-aIgM</text>
<text x="417.5" y="305.3" font-size="6.5" font-weight="bold" stroke="#222" stroke-width="0.0" fill="#222" text-anchor="start" textLength="20.75" lengthAdjust="spacingAndGlyphs">siBTK +</text>
<text x="413.75" y="313.7" font-size="6.5" font-weight="bold" stroke="#222" stroke-width="0.0" fill="#222" text-anchor="start" textLength="30.0" lengthAdjust="spacingAndGlyphs">imm-aIgM</text>
<text x="458" y="305.3" font-size="6.5" font-weight="bold" stroke="#222" stroke-width="0.0" fill="#222" text-anchor="start" textLength="27" lengthAdjust="spacingAndGlyphs">siControl</text>
<text x="457" y="313.7" font-size="6.5" font-weight="bold" stroke="#222" stroke-width="0.0" fill="#222" text-anchor="start" textLength="28" lengthAdjust="spacingAndGlyphs">+ stromal</text>
<text x="464.25" y="322.0" font-size="6.5" font-weight="bold" stroke="#222" stroke-width="0.0" fill="#222" text-anchor="start" textLength="13.25" lengthAdjust="spacingAndGlyphs">cells</text>
<text x="495" y="305.3" font-size="6.5" font-weight="bold" stroke="#222" stroke-width="0.0" fill="#222" text-anchor="start" textLength="21.25" lengthAdjust="spacingAndGlyphs">siBTK +</text>
<text x="494.5" y="313.7" font-size="6.5" font-weight="bold" stroke="#222" stroke-width="0.0" fill="#222" text-anchor="start" textLength="21.75" lengthAdjust="spacingAndGlyphs">stromal</text>
<text x="500" y="322.0" font-size="6.5" font-weight="bold" stroke="#222" stroke-width="0.0" fill="#222" text-anchor="start" textLength="12.5" lengthAdjust="spacingAndGlyphs">cells</text>
<text transform="translate(278.0,270.7) rotate(-90)" font-size="6.5" font-weight="bold" stroke="#2a2a2a" stroke-width="0.18" fill="#2a2a2a" text-anchor="start" textLength="104.8" lengthAdjust="spacingAndGlyphs">% viable CLL cells (no. of cases: 23)</text>
</svg>
</body></html>
